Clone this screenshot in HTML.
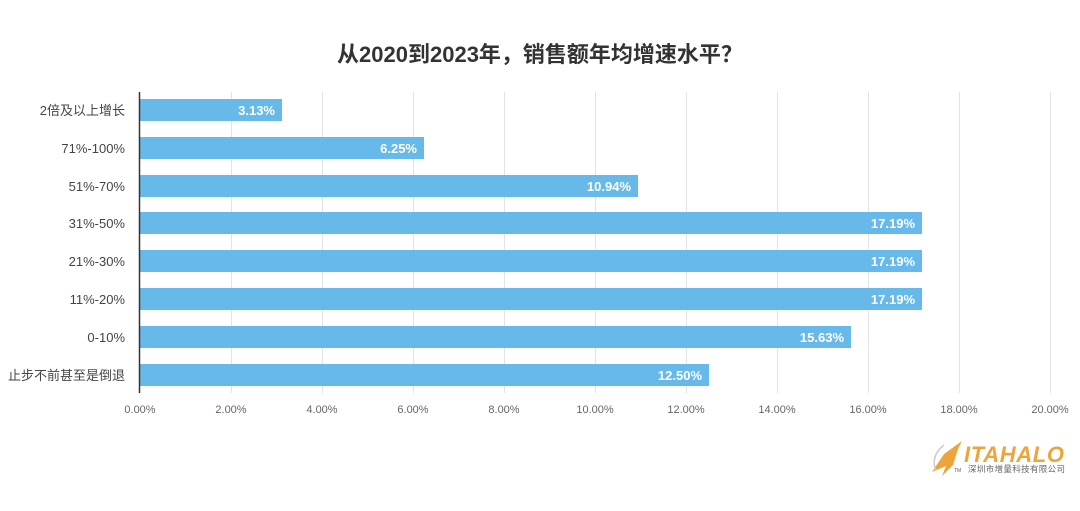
<!DOCTYPE html>
<html><head><meta charset="utf-8"><style>
body{margin:0;background:#fff;}
svg text{font-family:"Liberation Sans","Noto Sans CJK SC",sans-serif;}
</style></head><body>
<svg width="1080" height="506" viewBox="0 0 1080 506" xmlns="http://www.w3.org/2000/svg">
<rect width="1080" height="506" fill="#fff"/>
<text x="540" y="62" text-anchor="middle" font-size="22" font-weight="bold" fill="#333">从2020到2023年，销售额年均增速水平？</text>
<g stroke="#e3e3e3" stroke-width="1">
<line x1="231.5" y1="92" x2="231.5" y2="393"/><line x1="322.5" y1="92" x2="322.5" y2="393"/>
<line x1="413.5" y1="92" x2="413.5" y2="393"/><line x1="504.5" y1="92" x2="504.5" y2="393"/>
<line x1="595.5" y1="92" x2="595.5" y2="393"/><line x1="686.5" y1="92" x2="686.5" y2="393"/>
<line x1="777.5" y1="92" x2="777.5" y2="393"/><line x1="868.5" y1="92" x2="868.5" y2="393"/>
<line x1="959.5" y1="92" x2="959.5" y2="393"/><line x1="1050.5" y1="92" x2="1050.5" y2="393"/>
</g>
<g fill="#67b9ea">
<rect x="140" y="99" width="142" height="22"/>
<rect x="140" y="137" width="284" height="22"/>
<rect x="140" y="175" width="498" height="22"/>
<rect x="140" y="212" width="782" height="22"/>
<rect x="140" y="250" width="782" height="22"/>
<rect x="140" y="288" width="782" height="22"/>
<rect x="140" y="326" width="711" height="22"/>
<rect x="140" y="364" width="569" height="22"/>
</g>
<line x1="139.5" y1="92" x2="139.5" y2="393" stroke="#333" stroke-width="1.5"/>
<g font-size="13" font-weight="bold" fill="#fff" text-anchor="end">
<text x="275" y="115">3.13%</text><text x="417" y="153">6.25%</text>
<text x="631" y="191">10.94%</text><text x="915" y="228">17.19%</text>
<text x="915" y="266">17.19%</text><text x="915" y="304">17.19%</text>
<text x="844" y="342">15.63%</text><text x="702" y="380">12.50%</text>
</g>
<g font-size="13" fill="#444" text-anchor="end">
<text x="125" y="115">2倍及以上增长</text><text x="125" y="153">71%-100%</text>
<text x="125" y="191">51%-70%</text><text x="125" y="228">31%-50%</text>
<text x="125" y="266">21%-30%</text><text x="125" y="304">11%-20%</text>
<text x="125" y="342">0-10%</text><text x="125" y="380">止步不前甚至是倒退</text>
</g>
<g font-size="11" fill="#666" text-anchor="middle">
<text x="140" y="413">0.00%</text><text x="231" y="413">2.00%</text><text x="322" y="413">4.00%</text>
<text x="413" y="413">6.00%</text><text x="504" y="413">8.00%</text><text x="595" y="413">10.00%</text>
<text x="686" y="413">12.00%</text><text x="777" y="413">14.00%</text><text x="868" y="413">16.00%</text>
<text x="959" y="413">18.00%</text><text x="1050" y="413">20.00%</text>
</g>
<g>
<path d="M962 441 L944 454 L932 472 L946 466 L942 476 L953 465 L958 449 Z" fill="#eea43a"/>
<path d="M944 445 Q930 456 936 471" stroke="#ccc" fill="none" stroke-width="1.5"/>
<text x="954" y="472" font-size="5" fill="#666">TM</text>
<text x="964" y="462" font-size="22" font-style="italic" font-weight="bold" fill="#eea43a" textLength="100">ITAHALO</text>
<text x="968" y="472" font-size="8.5" fill="#666" textLength="97">深圳市增量科技有限公司</text>
</g>
</svg>
</body></html>
